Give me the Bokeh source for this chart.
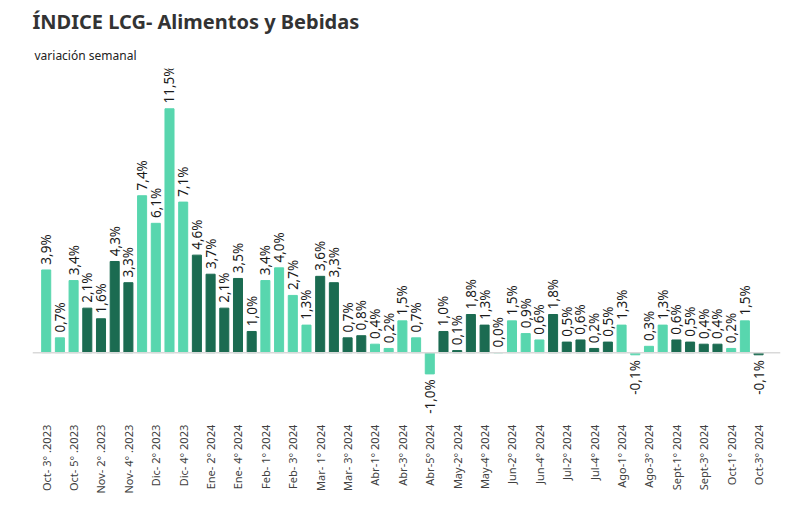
import math
from bokeh.plotting import figure
from bokeh.models import ColumnDataSource, Span, Title
from bokeh.core.properties import value
from bokeh.embed import file_html
from bokeh.resources import INLINE

weeks = ["Oct- 3° .2023", "Oct- 4° .2023", "Oct- 5° .2023",
         "Nov- 1° .2023", "Nov- 2° .2023", "Nov- 3° .2023", "Nov- 4° .2023",
         "Dic- 1° 2023", "Dic- 2° 2023", "Dic- 3° 2023", "Dic- 4° 2023",
         "Ene- 1° 2024", "Ene- 2° 2024", "Ene- 3° 2024", "Ene- 4° 2024", "Ene- 5° 2024",
         "Feb- 1° 2024", "Feb- 2° 2024", "Feb- 3° 2024", "Feb- 4° 2024",
         "Mar- 1° 2024", "Mar- 2° 2024", "Mar- 3° 2024", "Mar- 4° 2024",
         "Abr-1° 2024", "Abr-2° 2024", "Abr-3° 2024", "Abr-4° 2024", "Abr-5° 2024",
         "May-1° 2024", "May-2° 2024", "May-3° 2024", "May-4° 2024",
         "Jun-1° 2024", "Jun-2° 2024", "Jun-3° 2024", "Jun-4° 2024",
         "Jul-1° 2024", "Jul-2° 2024", "Jul-3° 2024", "Jul-4° 2024", "Jul-5° 2024",
         "Ago-1° 2024", "Ago-2° 2024", "Ago-3° 2024", "Ago-4° 2024",
         "Sept-1° 2024", "Sept-2° 2024", "Sept-3° 2024", "Sept-4° 2024",
         "Oct-1° 2024", "Oct-2° 2024", "Oct-3° 2024"]
values = [3.9, 0.7, 3.4, 2.1, 1.6, 4.3, 3.3, 7.4, 6.1, 11.5, 7.1, 4.6, 3.7, 2.1, 3.5, 1.0,
          3.4, 4.0, 2.7, 1.3, 3.6, 3.3, 0.7, 0.8, 0.4, 0.2, 1.5, 0.7, -1.0, 1.0, 0.1, 1.8,
          1.3, 0.0, 1.5, 0.9, 0.6, 1.8, 0.5, 0.6, 0.2, 0.5, 1.3, -0.1, 0.3, 1.3, 0.6, 0.5,
          0.4, 0.4, 0.2, 1.5, -0.1]
shade = ["L"]*3 + ["D"]*4 + ["L"]*4 + ["D"]*5 + ["L"]*4 + ["D"]*4 + ["L"]*5 + ["D"]*4 + \
        ["L"]*4 + ["D"]*5 + ["L"]*4 + ["D"]*4 + ["L"]*2 + ["D"]

LIGHT, DARK = "#58d6ae", "#1b6b51"
n = len(values)
xs = list(range(1, n + 1))
colors = [LIGHT if s == "L" else DARK for s in shade]
vlabels = [("%.1f%%" % v).replace(".", ",") for v in values]
ly = [v + 0.25 if v >= 0 else v - 0.25 for v in values]
lalign = ["left" if v >= 0 else "right" for v in values]

src = ColumnDataSource(dict(x=xs, top=values, color=colors, lab=vlabels, ly=ly, al=lalign))

p = figure(width=784, height=510, output_backend="svg", toolbar_location=None,
           x_range=(0.0, 54.6), y_range=(-7.3, 13.4),
           title="ÍNDICE LCG- Alimentos y Bebidas", min_border_left=32, min_border_right=4,
           min_border_bottom=3)
p.title.text_font = "Noto Sans"
p.title.text_font_size = "20px"
p.title.text_font_style = "bold"
p.title.text_color = "#333333"
p.title.offset = 0
sub = Title(text="variación semanal", text_font="Noto Sans", text_font_size="12px",
            text_font_style="normal", text_color="#222222", offset=2)
p.add_layout(sub, "above")

p.vbar(x="x", top="top", width=0.66, color="color", source=src)
p.add_layout(Span(location=0, dimension="width", line_color="#d9d9d9", line_width=1.5))

p.text(x="x", y="ly", text="lab", angle=math.pi/2, text_align="al", text_baseline="middle",
       text_font=value("Noto Sans"), text_font_size="13.5px", text_color="#1a1a1a", source=src)

tx = xs[::2]
tl = weeks[::2]
p.text(x=tx, y=[-3.4]*len(tx), text=tl, angle=math.pi/2, text_align="right",
       text_baseline="middle", text_font=value("Noto Sans"), text_font_size="11px",
       text_color="#404040")

p.xaxis.visible = False
p.yaxis.visible = False
p.grid.visible = False
p.outline_line_color = None

open("out.html", "w").write(file_html(p, INLINE))
